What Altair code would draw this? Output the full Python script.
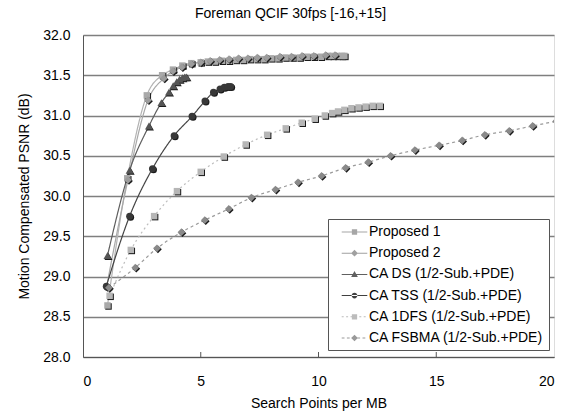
import altair as alt
import pandas as pd

# ---- data ----
names = ["Proposed 1", "Proposed 2", "CA DS (1/2-Sub.+PDE)", "CA TSS (1/2-Sub.+PDE)",
         "CA 1DFS (1/2-Sub.+PDE)", "CA FSBMA (1/2-Sub.+PDE)"]

p1_x = [1.04, 1.88, 2.71, 3.36, 3.82, 4.22, 4.6, 5.0, 5.3, 5.6, 5.9, 6.2, 6.5, 6.8, 7.1, 7.4,
        7.7, 8.0, 8.3, 8.6, 8.9, 9.2, 9.5, 9.8, 10.1, 10.4, 10.6, 10.8, 11.0, 11.1]
p1_y = [28.64, 30.22, 31.25, 31.50, 31.57, 31.62, 31.65, 31.66, 31.67, 31.67, 31.68, 31.68, 31.69,
        31.69, 31.70, 31.70, 31.70, 31.71, 31.71, 31.72, 31.72, 31.72, 31.73, 31.73, 31.73, 31.74,
        31.74, 31.74, 31.74, 31.74]

p2_x = [1.0, 1.91, 2.76, 3.43, 3.82, 4.2, 4.6, 5.0, 5.4, 5.8, 6.2, 6.6, 7.0, 7.4, 7.8, 8.36,
        8.85, 9.3, 9.8, 10.3, 10.7]
p2_y = [28.87, 30.20, 31.19, 31.46, 31.55, 31.60, 31.64, 31.66, 31.68, 31.69, 31.70, 31.71,
        31.71, 31.72, 31.72, 31.73, 31.73, 31.74, 31.74, 31.75, 31.75]

ds_x = [1.04, 1.98, 2.80, 3.33, 3.65, 3.83, 3.98, 4.1, 4.22, 4.32, 4.39]
ds_y = [29.26, 30.32, 30.87, 31.16, 31.29, 31.37, 31.42, 31.45, 31.47, 31.48, 31.48]

tss_x = [0.99, 1.98, 2.95, 3.87, 4.63, 5.18, 5.54, 5.82, 6.0, 6.16, 6.27]
tss_y = [28.88, 29.75, 30.34, 30.75, 30.99, 31.18, 31.29, 31.33, 31.35, 31.36, 31.36]

dfs_x = [1.13, 2.03, 3.02, 3.99, 5.0, 5.98, 6.91, 7.82, 8.61, 9.29, 9.84, 10.27, 10.58, 10.83,
         11.1, 11.4, 11.7, 12.0, 12.3, 12.6]
dfs_y = [28.76, 29.33, 29.75, 30.06, 30.30, 30.49, 30.64, 30.76, 30.84, 30.91, 30.96, 31.00,
         31.03, 31.05, 31.07, 31.09, 31.10, 31.11, 31.12, 31.12]

fs_x = [1.1, 2.22, 3.14, 4.18, 5.17, 6.19, 7.15, 8.17, 9.13, 10.13, 11.15, 12.11, 13.06, 14.09,
        15.12, 16.1, 17.06, 18.1, 19.09, 20.1]
fs_y = [28.86, 29.11, 29.35, 29.55, 29.70, 29.84, 29.98, 30.08, 30.17, 30.25, 30.35, 30.42,
        30.50, 30.57, 30.63, 30.69, 30.76, 30.81, 30.87, 30.93]

y_ticks = [28.0, 28.5, 29.0, 29.5, 30.0, 30.5, 31.0, 31.5, 32.0]
x_ticks = [0, 5, 10, 15, 20]

series_x = [p1_x, p2_x, ds_x, tss_x, dfs_x, fs_x]
series_y = [p1_y, p2_y, ds_y, tss_y, dfs_y, fs_y]

# ---- styles ----
marker_fill = ["#a9a9a9", "#9c9c9c", "#555555", "#383838", "#b6b6b6", "#8a8a8a"]
line_col = ["#b3b3b3", "#a8a8a8", "#5e5e5e", "#444444", "#bdbdbd", "#9a9a9a"]
dashes = [[1, 0], [1, 0], [1, 0], [1, 0], [2, 3], [3, 3]]
shapes = ["square", "diamond", "triangle-up", "circle", "square", "diamond"]
sizes = [42, 60, 64, 49, 42, 60]

rows = []
for n, xs_, ys_ in zip(names, series_x, series_y):
    for a, b in zip(xs_, ys_):
        rows.append({"series": n, "x": a, "y": b})
df = pd.DataFrame(rows)

xs = alt.Scale(domain=[0, 20], nice=False)
ys = alt.Scale(domain=[28, 32], nice=False)

X = alt.X("x:Q", scale=xs,
          axis=alt.Axis(values=x_ticks, title="Search Points per MB", grid=False, ticks=False,
                        labelPadding=17, titlePadding=8, domainColor="#555555",
                        labelFontSize=14, titleFontSize=14, titleFontWeight="normal",
                        labelColor="#000", titleColor="#000", labelFont="Liberation Sans",
                        titleFont="Liberation Sans"))
Y = alt.Y("y:Q", scale=ys,
          axis=alt.Axis(values=y_ticks, format=".1f", title="Motion Compensated PSNR (dB)",
                        grid=True, gridColor="#7f7f7f", gridWidth=1.4, ticks=False,
                        labelPadding=13, titlePadding=11, domainColor="#555555",
                        labelFontSize=14, titleFontSize=14, titleFontWeight="normal",
                        labelColor="#000", titleColor="#000", labelFont="Liberation Sans",
                        titleFont="Liberation Sans"))

layers = []
# lines
for i, n in enumerate(names):
    layers.append(
        alt.Chart(df).transform_filter(alt.datum.series == n)
        .mark_line(interpolate="monotone", clip=True, color=line_col[i], strokeWidth=1.2,
                   strokeDash=dashes[i])
        .encode(x=X, y=Y, order="x:Q")
    )
# marker shadows + markers
for i, n in enumerate(names):
    layers.append(
        alt.Chart(df).transform_filter(alt.datum.series == n)
        .mark_point(filled=True, clip=True, shape=shapes[i], size=sizes[i], color="#1a1a1a",
                    opacity=1, xOffset=1, yOffset=1)
        .encode(x=X, y=Y)
    )
    layers.append(
        alt.Chart(df).transform_filter(alt.datum.series == n)
        .mark_point(filled=True, clip=True, shape=shapes[i], size=sizes[i], color=marker_fill[i],
                    opacity=1)
        .encode(x=X, y=Y)
    )

# inside x ticks
tick_df = pd.DataFrame({"t": x_ticks[1:-1]})
layers.append(
    alt.Chart(tick_df).mark_rule(color="#555555", strokeWidth=1)
    .encode(x=alt.X("t:Q", scale=xs), y=alt.value(322), y2=alt.value(317))
)

# legend symbols: line + marker drawn as custom paths
def dash_path(on, off):
    parts = []
    s = -1.6
    while s < 1.6:
        e = min(s + on, 1.6)
        parts.append(f"M{s:.3f},-0.06H{e:.3f}V0.06H{s:.3f}Z")
        s = e + off
    return "".join(parts)

solid = "M-1.6,-0.06H1.6V0.06H-1.6Z"
sq = "M-0.33,-0.33H0.33V0.33H-0.33Z"
dia = "M0,-0.42L0.42,0L0,0.42L-0.42,0Z"
tri = "M0,-0.42L0.42,0.34H-0.42Z"
cir = "M-0.36,0A0.36,0.36 0 1,0 0.36,0A0.36,0.36 0 1,0 -0.36,0Z"
dotted = dash_path(0.25, 0.3)
dashed = dash_path(0.35, 0.3)
leg_paths = [solid + sq, solid + dia, solid + tri, solid + cir, dotted + sq, dashed + dia]
leg_cols = ["#a6a6a6", "#a0a0a0", "#606060", "#404040", "#bcbcbc", "#9a9a9a"]

legend_def = alt.Legend(title=None, orient="none", legendX=245, legendY=184,
                        symbolSize=256, labelFontSize=14, labelFont="Liberation Sans",
                        labelColor="#000", labelOffset=6.5, symbolOffset=13.5, padding=5,
                        rowPadding=6.2, strokeColor="#555555", fillColor="#ffffff",
                        symbolStrokeWidth=0, labelLimit=300)
layers.append(
    alt.Chart(df).transform_filter("false")
    .mark_point(filled=True, opacity=1)
    .encode(
        x=X, y=Y,
        shape=alt.Shape("series:N", scale=alt.Scale(domain=names, range=leg_paths),
                        legend=legend_def, sort=names),
        color=alt.Color("series:N", scale=alt.Scale(domain=names, range=leg_cols),
                        legend=legend_def, sort=names),
    )
)

chart = alt.layer(*layers).properties(
    width=471, height=322,
    title=alt.TitleParams("Foreman QCIF 30fps [-16,+15]", fontSize=14, font="Liberation Sans",
                          fontWeight="normal", color="#000", anchor="middle", dx=-28, dy=4,
                          baseline="alphabetic", offset=0),
    autosize=alt.AutoSizeParams(type="none"),
    padding={"left": 83, "top": 35, "right": 15, "bottom": 58},
).configure_view(stroke="#858585", strokeWidth=1, fill="#ffffff").configure(background="#ffffff")

chart.save("out.html", embed_options={"renderer": "svg", "actions": False})
